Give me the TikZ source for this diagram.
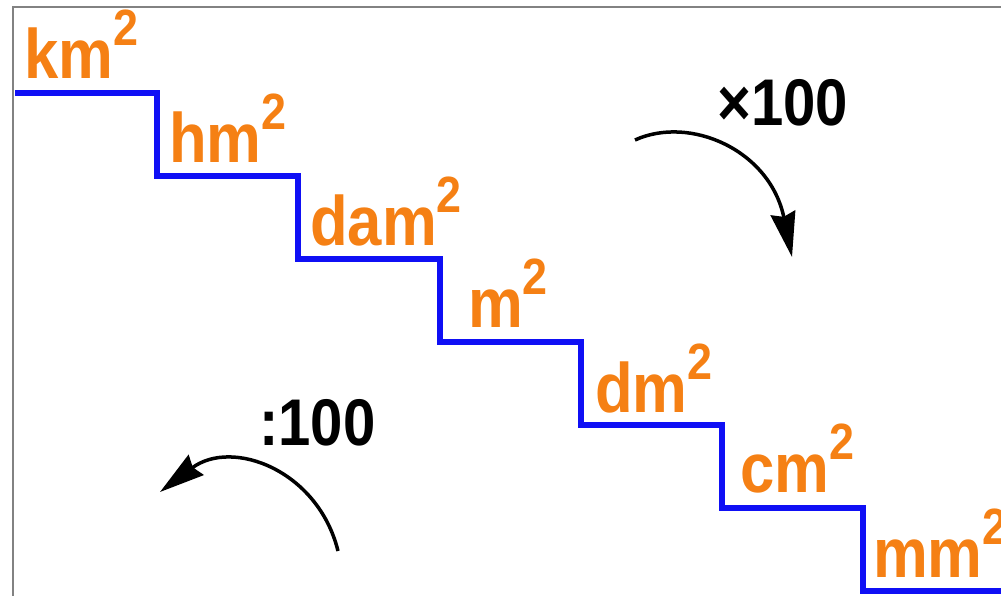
\documentclass[tikz,border=0pt]{standalone}
\usepackage{fontspec}
\setmainfont{Liberation Sans}
\usepackage{graphicx}
\usetikzlibrary{arrows.meta}
\definecolor{unitorange}{RGB}{245,128,20}
\definecolor{stairblue}{RGB}{15,15,245}
\definecolor{framegray}{RGB}{130,130,130}
\newcommand{\unitlab}[1]{\scalebox{0.88}[1]{\fontsize{70}{70}\selectfont\bfseries #1\raisebox{33pt}{\fontsize{51}{51}\selectfont 2}}}
\newcommand{\factorlab}[1]{\scalebox{0.88}[1]{\fontsize{66}{66}\selectfont\bfseries #1}}
\begin{document}
\begin{tikzpicture}[x=1pt,y=-1pt,
  unit/.style={text=unitorange, inner sep=0pt, anchor=base west},
  factor/.style={text=black, inner sep=0pt, anchor=base west},
  turn/.style={line width=3.5pt, -{Stealth[length=45pt,width=25pt,inset=4pt]}},
  frame/.style={draw=framegray, line width=2pt},
  stairs/.style={draw=stairblue, line width=6.5pt}]
\useasboundingbox (0,0) rectangle (1001,596);
% frame
\coordinate (fb) at (13,597);
\coordinate (ftl) at (13,7);
\coordinate (fr) at (1002,7);
\draw[frame] (fb) -- (ftl) -- (fr);
% stairs
\coordinate (s0) at (15,93);
\coordinate (a1) at (157,93);  \coordinate (b1) at (157,176);
\coordinate (a2) at (298,176); \coordinate (b2) at (298,259);
\coordinate (a3) at (440,259); \coordinate (b3) at (440,342);
\coordinate (a4) at (581,342); \coordinate (b4) at (581,425);
\coordinate (a5) at (722,425); \coordinate (b5) at (722,508);
\coordinate (a6) at (863,508); \coordinate (b6) at (863,591);
\coordinate (s7) at (1006,591);
\draw[stairs] (s0) -- (a1) -- (b1) -- (a2) -- (b2) -- (a3) -- (b3) -- (a4) -- (b4) -- (a5) -- (b5) -- (a6) -- (b6) -- (s7);
% unit labels
\node[unit] (km)  at (24,79)   {\unitlab{km}};
\node[unit] (hm)  at (169,163) {\unitlab{hm}};
\node[unit] (dam) at (310,245) {\unitlab{dam}};
\node[unit] (m)   at (468,327) {\unitlab{m}};
\node[unit] (dm)  at (595,412) {\unitlab{dm}};
\node[unit] (cm)  at (740,492) {\unitlab{cm}};
\node[unit] (mm)  at (873,577) {\unitlab{mm}};
% factors
\node[factor] (times) at (717,126) {\factorlab{×100}};
\node[factor] (div)   at (259,445) {\factorlab{:100}};
% curved arrows
\coordinate (ts) at (635,140);
\coordinate (tc1) at (690,115);
\coordinate (tc2) at (770,150);
\coordinate (te) at (792,257);
\draw[turn] (ts) .. controls (tc1) and (tc2) .. (te);
\coordinate (ds) at (338,551);
\coordinate (dc1) at (318,470);
\coordinate (dc2) at (232,438);
\coordinate (de) at (160,492);
\draw[turn] (ds) .. controls (dc1) and (dc2) .. (de);
\end{tikzpicture}
\end{document}
